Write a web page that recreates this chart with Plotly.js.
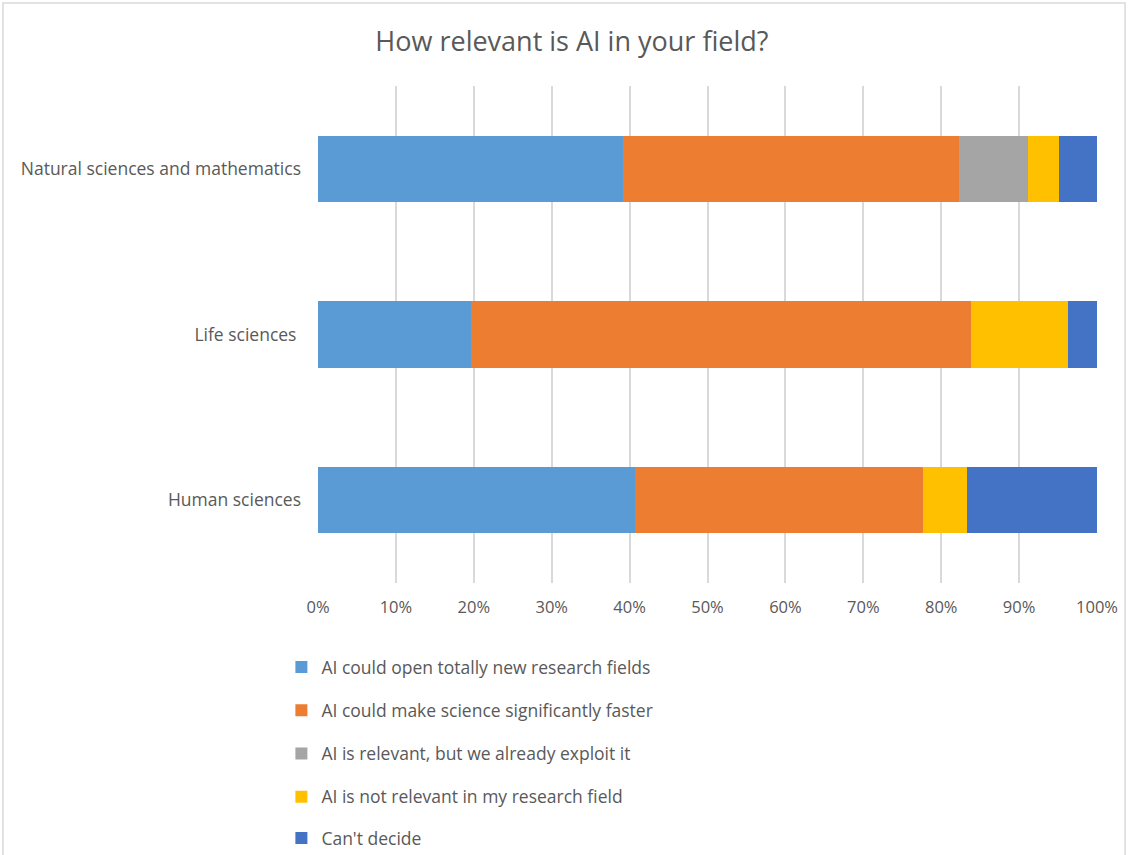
<!DOCTYPE html>
<html><head><meta charset="utf-8">
<script src="https://cdn.plot.ly/plotly-3.0.1.min.js"></script>
<style>html,body{margin:0;padding:0;background:#fff;}#chart{width:1128px;height:855px;}</style>
</head><body><div id="chart"></div>
<script>
const categories = ['Natural sciences and mathematics', 'Life sciences ', 'Human sciences'];
const seriesNames = ['AI could open totally new research fields', 'AI could make science significantly faster', 'AI is relevant, but we already exploit it', 'AI is not relevant in my research field', "Can't decide"];
const openNewFields = [39.2, 19.7, 40.7];
const makeFaster = [43.1, 64.1, 37.0];
const alreadyExploit = [8.8, 0, 0];
const notRelevant = [4.0, 12.5, 5.6];
const cantDecide = [4.9, 3.7, 16.7];
const colors = ['#5B9BD5', '#ED7D31', '#A5A5A5', '#FFC000', '#4472C4'];
const tickVals = [0,10,20,30,40,50,60,70,80,90,100];
const tickText = ['0%','10%','20%','30%','40%','50%','60%','70%','80%','90%','100%'];

const allSeries = [openNewFields, makeFaster, alreadyExploit, notRelevant, cantDecide];
const traces = allSeries.map((vals, i) => ({
  type: 'bar', orientation: 'h', name: seriesNames[i], x: vals, y: categories,
  marker: {color: colors[i]}, legendgroup: 'g' + i, hoverinfo: 'x+name',
  legend: i === allSeries.length - 1 ? 'legend2' : 'legend'
}));

const legendFont = {size: 17.5, color: '#595959'};
const layout = {
  width: 1128, height: 855,
  margin: {l: 318, r: 31, t: 86, b: 272, autoexpand: false},
  paper_bgcolor: '#fff', plot_bgcolor: '#fff',
  barmode: 'stack', bargap: 0.6,
  font: {family: 'Open Sans, Noto Sans, sans-serif', color: '#595959', size: 17},
  title: {text: 'How relevant is AI in your field?', font: {size: 27, color: '#595959'}, x: 0.507, xanchor: 'center', y: 0.951, yanchor: 'middle'},
  xaxis: {range: [0, 100], tickvals: tickVals, ticktext: tickText, showgrid: true, gridcolor: '#D9D9D9', gridwidth: 2, zeroline: false, showline: false, ticks: '', tickfont: {size: 16.5, color: '#595959'}, ticklabelstandoff: 12, fixedrange: true},
  yaxis: {autorange: 'reversed', showgrid: false, zeroline: false, showline: false, ticks: '', tickfont: {size: 17.5, color: '#595959'}, ticklabelstandoff: 16, fixedrange: true},
  showlegend: true,
  legend: {orientation: 'v', x: -0.047, xanchor: 'left', y: -0.1328, yanchor: 'top', traceorder: 'grouped', tracegroupgap: 17.5, font: legendFont, bgcolor: 'rgba(0,0,0,0)'},
  legend2: {orientation: 'v', x: -0.047, xanchor: 'left', y: -0.5493, yanchor: 'bottom', font: legendFont, bgcolor: 'rgba(0,0,0,0)'},
  shapes: [{type: 'rect', xref: 'paper', yref: 'paper', x0: -0.4044, x1: 1.036, y0: -0.6, y1: 1.167, line: {color: '#D9D9D9', width: 1.5}, layer: 'below'}]
};
Plotly.newPlot('chart', traces, layout, {displayModeBar: false, staticPlot: true});
</script></body></html>
